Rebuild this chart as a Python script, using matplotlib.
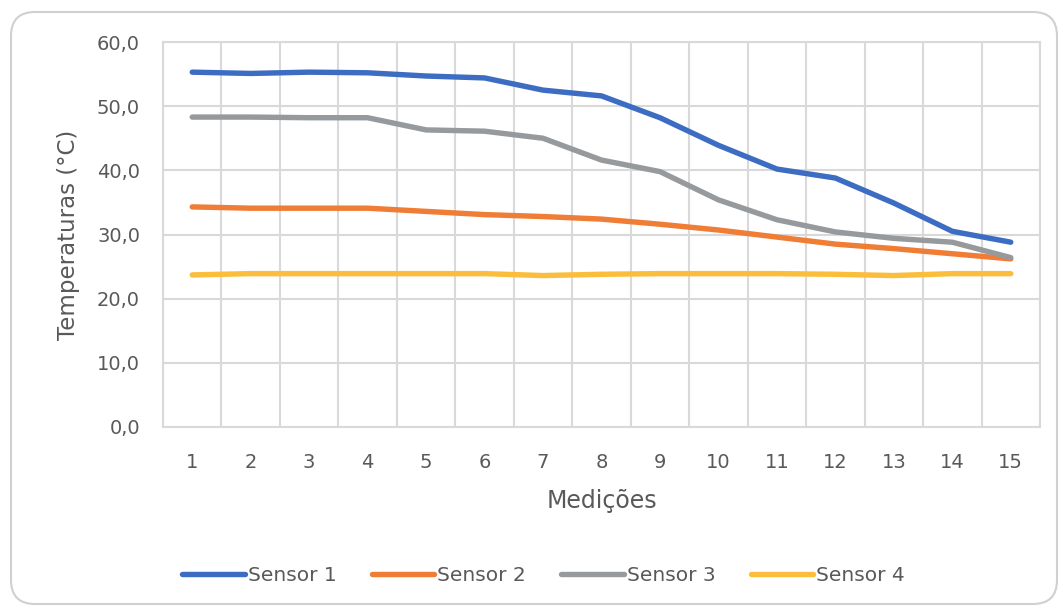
import matplotlib
matplotlib.use("Agg")
import matplotlib.pyplot as plt
from matplotlib.patches import FancyBboxPatch
import numpy as np

medicoes = list(range(1, 16))
sensor1 = [55.3, 55.1, 55.3, 55.2, 54.7, 54.4, 52.5, 51.6, 48.2, 43.9, 40.2, 38.8, 34.9, 30.5, 28.8]
sensor2 = [34.3, 34.1, 34.1, 34.1, 33.6, 33.1, 32.8, 32.4, 31.6, 30.7, 29.6, 28.5, 27.8, 27.0, 26.2]
sensor3 = [48.3, 48.3, 48.2, 48.2, 46.3, 46.1, 45.0, 41.6, 39.8, 35.4, 32.3, 30.4, 29.4, 28.8, 26.4]
sensor4 = [23.7, 23.9, 23.9, 23.9, 23.9, 23.9, 23.6, 23.8, 23.9, 23.9, 23.9, 23.8, 23.6, 23.9, 23.9]
series_names = ["Sensor 1", "Sensor 2", "Sensor 3", "Sensor 4"]
yticks = [0, 10, 20, 30, 40, 50, 60]

colors = ["#3d6dc3", "#ef7d35", "#979a9c", "#fbbd3c"]
txt = "#595959"
grid = "#d9d9d9"

plt.rcParams['font.family'] = ['DejaVu Sans']

fig = plt.figure(figsize=(10.6, 6.07), dpi=100)
# chart frame with rounded corners (pixel coords, dpi=100)
frame = FancyBboxPatch((11, 3), 1046, 592,
                       boxstyle="round,pad=0,rounding_size=24",
                       transform=None, facecolor="none",
                       edgecolor="#d0d0d0", linewidth=1.5, zorder=-1)
fig.patches.append(frame)

ax = fig.add_axes([163/1060, 1 - 427/607, (1040 - 163)/1060, (427 - 42)/607])
ax.set_facecolor("none")

for vals, name, c in zip([sensor1, sensor2, sensor3, sensor4], series_names, colors):
    ax.plot(medicoes, vals, color=c, lw=3.9, label=name, solid_capstyle="round",
            solid_joinstyle="round", zorder=3)

ax.set_xlim(0.5, 15.5)
ax.set_ylim(0, 60)
ax.set_xticks(medicoes)
ax.set_xticks(np.arange(0.5, 16, 1), minor=True)
ax.set_yticks(yticks)
ax.set_yticklabels([f"{v:.1f}".replace(".", ",") for v in yticks])
ax.tick_params(which="both", length=0, colors=txt, labelsize=14)
ax.tick_params(axis="x", pad=19)
ax.tick_params(axis="y", pad=16.5)
ax.grid(True, which="minor", axis="x", color=grid, lw=1.5)
ax.grid(True, which="major", axis="y", color=grid, lw=1.5)
for s in ax.spines.values():
    s.set_color(grid)
    s.set_linewidth(1.5)

ax.set_xlabel("Medições", color=txt, fontsize=17, labelpad=12)
ax.set_ylabel("Temperaturas (°C)", color=txt, fontsize=16.5, labelpad=12)

leg = ax.legend(loc="center", bbox_to_anchor=(0.434, -0.387), ncol=4, frameon=False,
                handlelength=3.1, handletextpad=0.15, columnspacing=1.75,
                fontsize=14.5, labelcolor=txt)

fig.savefig("out.png", dpi=100)
